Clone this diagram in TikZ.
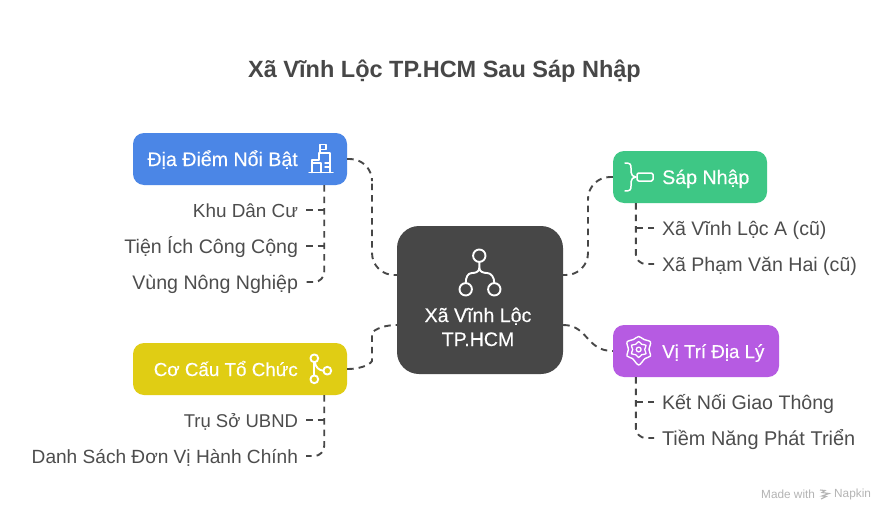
\documentclass[tikz,border=0pt]{standalone}
\usepackage{fontspec}
\usetikzlibrary{calc}
\setmainfont{Liberation Sans}
\newfontfamily\labfont[FakeBold=0.25]{Liberation Sans}
\definecolor{ink}{HTML}{474747}
\definecolor{txt}{HTML}{4D4D4D}
\definecolor{cblue}{HTML}{4B86E6}
\definecolor{cgreen}{HTML}{3EC785}
\definecolor{cpurple}{HTML}{B65BE2}
\definecolor{cyellow}{HTML}{E0CD14}
\definecolor{cgray}{HTML}{B4B4B4}
\tikzset{
  box/.style={draw=none,inner sep=0pt,rounded corners=11pt,minimum height=52pt},
  lab/.style={inner sep=0pt,text height=18pt,text depth=4pt,text=white,font=\labfont\fontsize{#1}{22}\selectfont},
  lab/.default=19.6,
  leafl/.style={inner sep=0pt,outer xsep=8pt,text height=18pt,text depth=4pt,text=txt,font=\fontsize{#1}{22}\selectfont},
  leafl/.default=19.6,
  conn/.style={draw=ink,line width=1.9pt,dash pattern=on 6.5pt off 5pt,rounded corners=14pt},
  icon/.style={draw=white,line width=1.5pt,line cap=round,line join=round},
}
\begin{document}
\begin{tikzpicture}[x=1pt,y=-1pt]
\useasboundingbox (0,0) rectangle (888,516);
\fill[white] (0,0) rectangle (888,516);
\node[inner sep=0pt,text height=22pt,text depth=5pt,text=ink,font=\bfseries\fontsize{23.5}{28}\selectfont] (title) at (444.5,69) {Xã Vĩnh Lộc TP.HCM Sau Sáp Nhập};
% boxes
\node[box,fill=ink,minimum width=166pt,minimum height=148pt,rounded corners=22pt] (hub) at (480,300) {};
\node[box,fill=cblue,minimum width=214pt] (blue) at (240,159) {};
\node[box,fill=cgreen,minimum width=154pt] (green) at (690,177) {};
\node[box,fill=cpurple,minimum width=166pt] (purple) at (696,351) {};
\node[box,fill=cyellow,minimum width=214pt] (yellow) at (240,369) {};
% box labels
\node[lab,anchor=east] (lblue) at (298,159) {Địa Điểm Nổi Bật};
\node[lab,anchor=west] (lgreen) at (662,177) {Sáp Nhập};
\node[lab=18.7,anchor=west] (lpurple) at (662,351) {Vị Trí Địa Lý};
\node[lab=18.8,anchor=east] (lyellow) at (298,369) {Cơ Cấu Tổ Chức};
\node[lab] (lhub1) at (478,315) {Xã Vĩnh Lộc};
\node[lab] (lhub2) at (478,339) {TP.HCM};
% leaves
\node[leafl=18.9,anchor=east] (khu) at (306,210) {Khu Dân Cư};
\node[leafl,anchor=east] (tien) at (306,246) {Tiện Ích Công Cộng};
\node[leafl,anchor=east] (vung) at (306,282) {Vùng Nông Nghiệp};
\node[leafl=18.5,anchor=east] (tru) at (306,420) {Trụ Sở UBND};
\node[leafl=19.1,anchor=east] (danh) at (306,456) {Danh Sách Đơn Vị Hành Chính};
\node[leafl,anchor=west] (vla) at (654,228) {Xã Vĩnh Lộc A (cũ)};
\node[leafl,anchor=west] (pvh) at (654,264) {Xã Phạm Văn Hai (cũ)};
\node[leafl,anchor=west] (knt) at (654,402) {Kết Nối Giao Thông};
\node[leafl=19.9,anchor=west] (tnp) at (654,438) {Tiềm Năng Phát Triển};
% ports
\coordinate (hubNW) at ($(hub.west)+(0,-25)$);
\coordinate (hubSW) at ($(hub.west)+(0,25)$);
\coordinate (hubNE) at ($(hub.east)+(0,-25)$);
\coordinate (hubSE) at ($(hub.east)+(0,25)$);
\coordinate (bluePort) at ($(blue.south east)+(-23,0)$);
\coordinate (yellowPort) at ($(yellow.south east)+(-23,0)$);
\coordinate (greenPort) at ($(green.south west)+(23,0)$);
\coordinate (purplePort) at ($(purple.south west)+(23,0)$);
% hub connectors
\draw[conn,rounded corners=22pt] (blue.east) -| (372,200) |- (hubNW);
\draw[conn,rounded corners=22pt] (green.west) -| (588,220) |- (hubNE);
\draw[conn] (yellow.east) .. controls (365,369) and (372,362) .. (372,347) .. controls (372,332) and (380,325) .. (hubSW);
\draw[conn] (hubSE) .. controls (588,325) and (586,351) .. (purple.west);
% trunks
\draw[conn,rounded corners=10pt] (bluePort) |- (vung.east);
\draw[conn] (khu.east) -- (khu.east -| bluePort);
\draw[conn] (tien.east) -- (tien.east -| bluePort);
\draw[conn,rounded corners=10pt] (yellowPort) |- (danh.east);
\draw[conn] (tru.east) -- (tru.east -| yellowPort);
\draw[conn,rounded corners=10pt] (greenPort) |- (pvh.west);
\draw[conn] (vla.west) -- (vla.west -| greenPort);
\draw[conn,rounded corners=10pt] (purplePort) |- (tnp.west);
\draw[conn] (knt.west) -- (knt.west -| purplePort);
% building icon
\draw[icon] (309,172.5) -- (333,172.5);
\draw[icon] (312,172.5) -- (312,160) -- (319,160) -- (319,153) -- (330,153) -- (330,172.5);
\draw[icon] (320,153) -- (320,144.5) -- (326,144.5) -- (326,149.5) -- (320,149.5);
\draw[icon] (313,163) -- (321,163) (325,163) -- (329,163) (321,163) -- (321,172.5) (325,167) -- (329,167);
% bracket icon
\draw[icon] (625,163) .. controls (630,163) and (631,164) .. (631,168) -- (631,172) .. controls (631,175) and (633,177) .. (636,177) .. controls (633,177) and (631,179) .. (631,182) -- (631,186) .. controls (631,190) and (630,191) .. (625,191);
\draw[icon,rounded corners=1.5pt] (637,173) rectangle (653,181);
% gear pin icon
\draw[icon,line width=1.4pt] plot[smooth cycle] coordinates {(638.7,336.5) (644,339.5) (650.5,342) (649,349.5) (650.5,356) (645,358.5) (638.7,365) (632.4,358.5) (627,356) (628.4,349.5) (627,342) (633.4,339.5)};
\draw[icon,line width=1.3pt] plot[smooth cycle] coordinates {(638.7,341.5) (641.7,344.3) (646,345.25) (644.7,349.5) (646,353.75) (641.7,354.7) (638.7,357.5) (635.7,354.7) (631.4,353.75) (632.7,349.5) (631.4,345.25) (635.7,344.3)};
\draw[icon,line width=1.3pt] (638.7,349.5) circle (2.4);
% branch icon
\draw[icon,line width=1.9pt] (314.3,358.3) circle (3.9);
\draw[icon,line width=1.9pt] (314.3,379.3) circle (3.9);
\draw[icon,line width=1.9pt] (327.3,370.7) circle (3.9);
\draw[icon,line width=1.9pt] (314.3,362.2) -- (314.3,375.4);
\draw[icon,line width=1.9pt] (315,362.5) .. controls (315.5,367) and (319,370.5) .. (323.4,370.7);
% hub icon
\draw[icon,line width=1.9pt] (479.3,255.7) circle (6.2);
\draw[icon,line width=1.9pt] (465.7,289.3) circle (6.2);
\draw[icon,line width=1.9pt] (494.3,289.3) circle (6.2);
\draw[icon,line width=1.9pt] (479.3,262) -- (479.3,268) .. controls (479.3,272) and (475,273) .. (472,273) .. controls (468,273) and (465.7,277) .. (465.7,283);
\draw[icon,line width=1.9pt] (479.3,268) .. controls (479.3,272) and (484,273) .. (487,273) .. controls (491,273) and (494.3,277) .. (494.3,283);
% watermark
\node[inner sep=0pt,anchor=west,text=cgray,font=\fontsize{11.8}{13}\selectfont] (made) at (761,494) {Made with};
\node[inner sep=0pt,anchor=west,text=cgray,font=\fontsize{11.8}{13}\selectfont] (nap) at (834,494) {Napkin};
\draw[cgray,line width=1.1pt] (820,490) -- (825,490.5) -- (822,492.5) -- (829,493.5) -- (822,496) -- (826,496.5) -- (821,499);
\end{tikzpicture}
\end{document}
